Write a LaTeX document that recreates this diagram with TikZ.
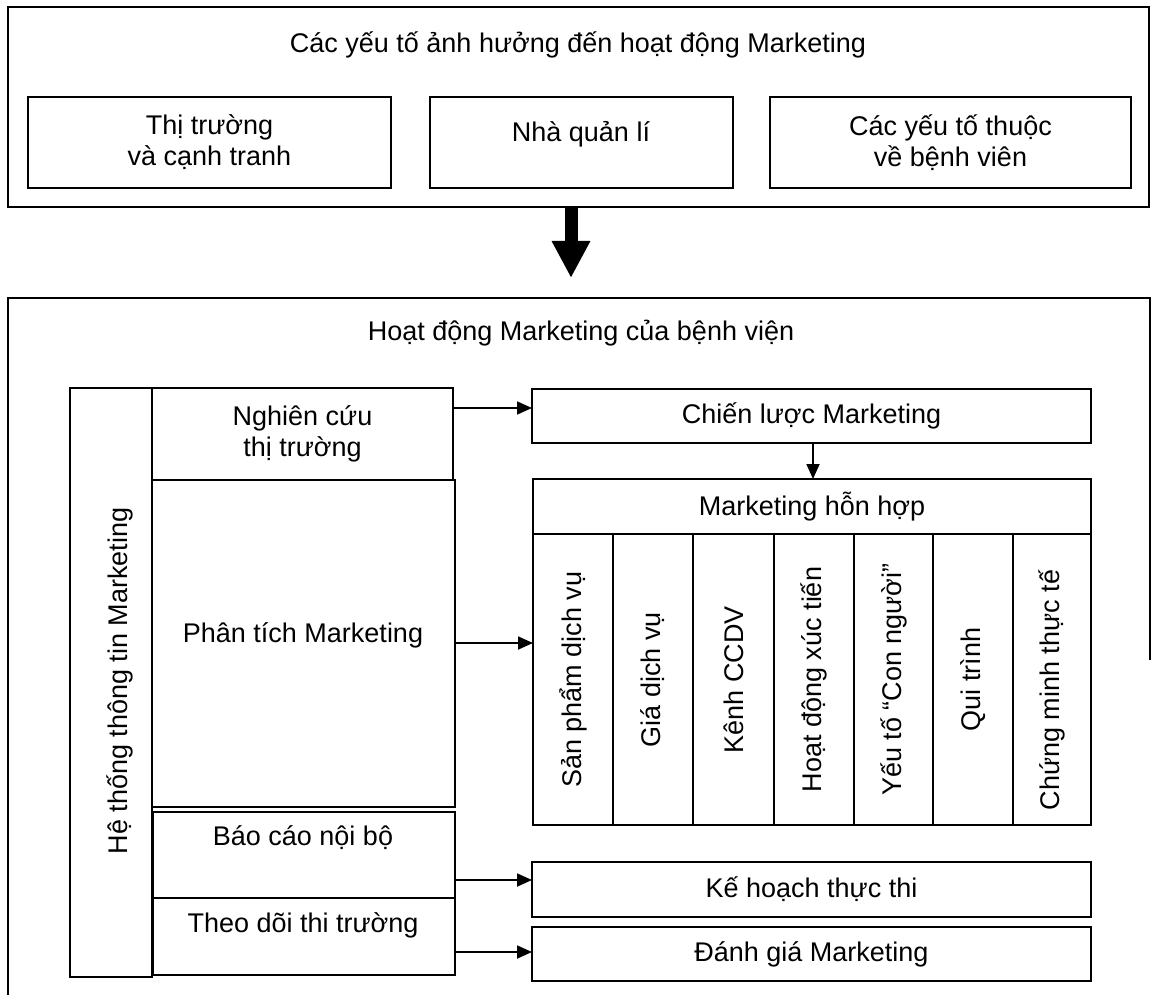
\documentclass[tikz,border=0pt]{standalone}
\usepackage{fontspec}
\usepackage{graphicx}
\setmainfont{Liberation Sans}
\usetikzlibrary{arrows.meta}

% one unit = 1pt, y grows downwards
\tikzset{
  x=1pt, y=-1pt,
  frame/.style={draw, line width=1.8pt, inner sep=0pt, outer sep=0pt},
  lbl/.style={inner sep=0pt, align=center, font=\fontsize{27}{31}\selectfont},
  link/.style={line width=1.8pt, -{Triangle[length=15pt,width=13pt]}},
  bigarrow/.style={line width=13pt, -{Triangle[length=37pt,width=36pt]}},
}

% \boxat[opts]{name}{x1}{y1}{x2}{y2}{text}
\newcommand\boxat[7][]{%
  \node[frame, lbl, #1, minimum width={(#5)-(#3)}, minimum height={(#6)-(#4)}]
    (#2) at ({((#3)+(#5))/2},{((#4)+(#6))/2}) {#7};}
\newcommand\vtext[1]{\rotatebox{90}{#1}}

\begin{document}
\begin{tikzpicture}
\useasboundingbox (0,0) rectangle (1152,995);
\fill[white] (0,0) rectangle (1152,995);

% ---- influencing factors ----
\boxat{factors}{8}{7}{1149}{207}{}
\node[lbl] (factorsTitle) at (578,45) {Các yếu tố ảnh hưởng đến hoạt động Marketing};
\boxat{market}{28}{97}{391}{188}{Thị trường\\và cạnh tranh}
\boxat{manager}{430}{97}{733}{188}{}
\node[lbl] (managerText) at (581,134) {Nhà quản lí};
\boxat{internal}{770}{97}{1131}{188}{Các yếu tố thuộc\\về bệnh viên}

% ---- hospital marketing activities ----
\node[inner sep=0pt, outer sep=0pt, minimum width=1142, minimum height=697]
  (hospital) at (579,646.5) {};
\draw[line width=1.8pt] (hospital.south west) -- (hospital.north west)
  -- (hospital.north east) -- ++(0,362);
\node[lbl] (hospitalTitle) at (581,333) {Hoạt động Marketing của bệnh viện};

\draw[bigarrow, shorten >=20pt] (factors.south -| 571,0) -- (hospital.north -| 571,0);

% marketing information system
\boxat{mis}{70}{388}{152}{977}{}
\node[lbl] (misText) at (120,681) {\vtext{Hệ thống thông tin Marketing}};
\boxat{research}{152}{388}{453}{480}{Nghiên cứu\\thị trường}
\boxat{analysis}{152}{480}{455}{807}{}
\node[lbl] (analysisText) at (303,635) {Phân tích Marketing};
\boxat{report}{153}{812}{455}{898}{}
\node[lbl] (reportText) at (303,838) {Báo cáo nội bộ};
\boxat{watch}{153}{898}{455}{975}{}
\node[lbl] (watchText) at (303,925) {Theo dõi thi trường};

% strategy and marketing mix
\boxat{strategy}{532}{389}{1091}{443}{Chiến lược Marketing}
\boxat{mixHead}{533}{479}{1091}{534}{Marketing hỗn hợp}
\boxat{c1}{533}{534}{613}{825}{\vtext{Sản phẩm dịch vụ}}
\boxat{c2}{613}{534}{693}{825}{\vtext{Giá dịch vụ}}
\boxat{c3}{693}{534}{774}{825}{\vtext{Kênh CCDV}}
\boxat{c4}{774}{534}{854}{825}{\vtext{Hoạt động xúc tiến}}
\boxat{c5}{854}{534}{933}{825}{\vtext{Yếu tố “Con người”}}
\boxat{c6}{933}{534}{1013}{825}{\vtext{Qui trình}}
\boxat{c7}{1013}{534}{1091}{825}{}
\node[lbl] (c7Text) at (1052,690) {\vtext{Chứng minh thực tế}};

\boxat{plan}{532}{862}{1091}{917}{Kế hoạch thực thi}
\boxat{eval}{532}{927}{1091}{981}{Đánh giá Marketing}

% connectors
\draw[link] (research.east |- 0,408) -- (strategy.west |- 0,408);
\draw[link] (strategy.south -| 813,0) -- (mixHead.north -| 813,0);
\draw[link] (analysis.east |- 0,643) -- (c1.west |- 0,643);
\draw[link] (report.east |- 0,880) -- (plan.west |- 0,880);
\draw[link] (watch.east |- 0,952) -- (eval.west |- 0,952);
\end{tikzpicture}
\end{document}
